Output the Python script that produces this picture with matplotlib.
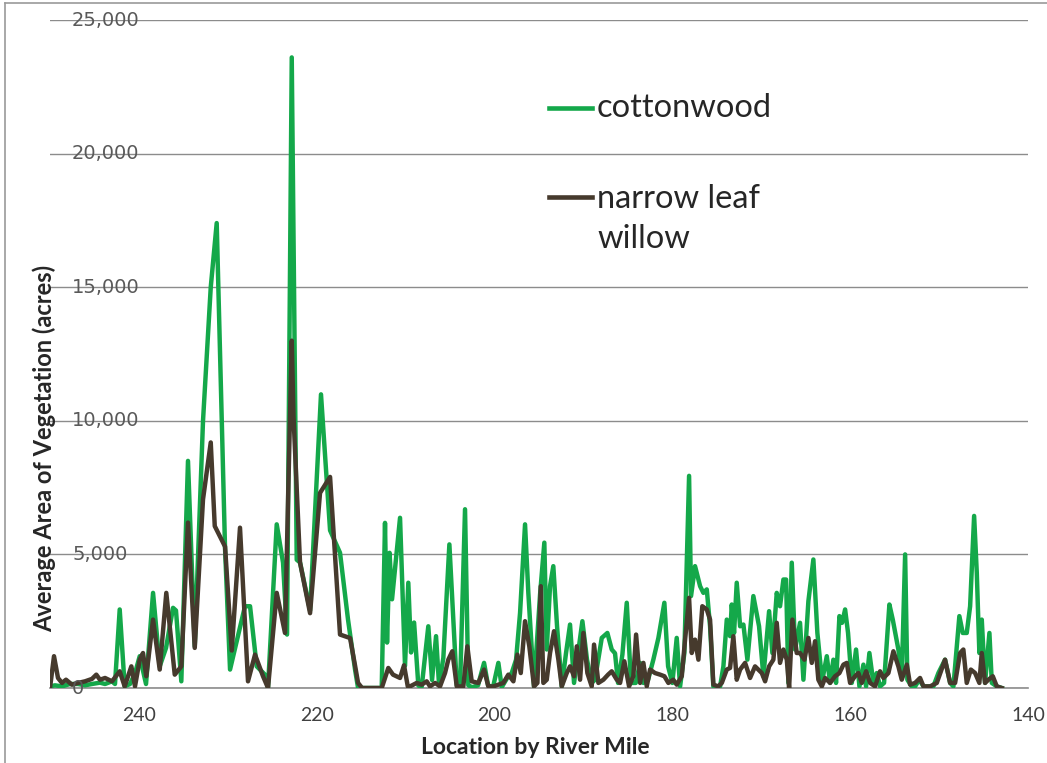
import matplotlib
matplotlib.use("Agg")
import matplotlib.pyplot as plt
from matplotlib.lines import Line2D

# ---------------- data ----------------
cw_miles = [250.00, 249.44, 248.65, 247.75, 246.85, 246.06, 245.28, 244.38, 243.81, 243.03,
            242.69, 242.16, 241.60, 241.00, 240.44, 239.91, 239.20, 238.41, 237.66, 236.95,
            236.16, 235.83, 235.23, 234.48, 233.72, 232.79, 231.92, 231.25, 230.31, 229.75,
            228.07, 227.50, 226.75, 225.82, 225.48, 224.50, 223.79, 223.34, 222.81, 222.25,
            221.88, 220.75, 219.52, 218.50, 217.38, 216.48, 215.69, 215.35, 212.69, 212.32,
            212.09, 211.81, 211.53, 210.63, 210.07, 209.70, 209.39, 209.05, 208.57, 208.19,
            207.45, 207.03, 206.58, 206.24, 205.76, 205.08, 204.25, 203.88, 203.32, 202.95,
            202.53, 201.86, 201.18, 200.73, 200.17, 199.57, 199.19, 198.59, 198.07, 197.58,
            197.13, 196.57, 196.20, 195.56, 194.88, 194.40, 194.13, 193.76, 193.39, 192.97,
            192.44, 191.96, 191.51, 191.06, 190.61, 190.12, 189.60, 189.07, 188.70, 187.94,
            187.31, 186.82, 186.45, 186.11, 185.62, 185.13, 184.65, 184.12, 183.63, 183.26,
            182.73, 182.14, 181.57, 180.90, 180.48, 180.00, 179.51, 179.13, 178.65, 178.12,
            177.90, 177.45, 176.88, 176.51, 176.13, 175.76, 175.39, 174.63, 174.26, 173.88,
            173.51, 173.32, 173.06, 172.76, 172.38, 172.01, 171.56, 170.89, 170.25, 169.76,
            169.12, 168.75, 168.26, 167.89, 167.51, 167.21, 166.95, 166.57, 166.20, 165.64,
            165.26, 164.70, 164.14, 163.69, 163.16, 162.63, 162.26, 161.89, 161.59, 161.21,
            160.91, 160.57, 160.24, 159.82, 159.34, 158.96, 158.51, 158.21, 157.84, 157.39,
            157.01, 156.64, 156.19, 155.59, 155.21, 154.58, 154.20, 153.82, 153.57, 153.07,
            152.70, 152.22, 151.76, 151.38, 150.64, 150.08, 149.33, 148.76, 148.39, 147.72,
            147.34, 146.89, 146.51, 146.06, 145.76, 145.47, 145.20, 144.83, 144.34, 144.07,
            143.51, 142.95]
cw_acres = [60, 100, 60, 150, 150, 100, 150, 200, 150, 250,
            150, 2940, 60, 150, 550, 1190, 150, 3560, 810, 1500,
            3000, 2900, 250, 8500, 1560, 10000, 15000, 17400, 5200, 690,
            3060, 3060, 810, 500, 30, 6125, 4690, 2000, 23600, 4800,
            4700, 2900, 10990, 5900, 5060, 2560, 690, 0, 0, 6180,
            1700, 5060, 3320, 6370, 830, 3940, 1330, 2450, 90, 50,
            2310, 300, 1940, 100, 1125, 5375, 100, 50, 6690, 100,
            30, 100, 940, 100, 30, 940, 30, 370, 560, 1060,
            2810, 6125, 3560, 60, 3500, 5440, 1440, 3810, 4560, 2310,
            60, 1310, 2375, 190, 1310, 2500, 1060, 190, 310, 1875,
            2060, 1440, 1300, 190, 1250, 3190, 190, 190, 940, 190,
            310, 1060, 1875, 3190, 810, 190, 1875, 60, 1310, 7940,
            3440, 4560, 3810, 3560, 3690, 2310, 60, 60, 810, 2560,
            1940, 3125, 2060, 3940, 2310, 2375, 1060, 3440, 2310, 440,
            2875, 1310, 3560, 3060, 4060, 4060, 190, 4690, 1440, 2440,
            310, 3250, 4810, 2060, 250, 1190, 190, 1060, 190, 2690,
            2440, 2940, 2060, 190, 1440, 60, 875, 60, 1310, 190,
            560, 60, 190, 3125, 2560, 1440, 440, 5000, 310, 60,
            60, 310, 60, 60, 60, 560, 1060, 190, 60, 2690,
            2060, 2060, 3060, 6440, 4310, 1310, 2560, 190, 2060, 190,
            60, 0]

nlw_miles = [250.00, 249.55, 249.10, 248.65, 248.20, 247.53, 246.85, 246.06, 245.28, 244.79,
             244.38, 243.81, 243.03, 242.16, 241.60, 240.85, 240.44, 239.91, 239.54, 239.17,
             238.41, 237.66, 236.92, 235.97, 235.23, 234.48, 233.72, 232.79, 231.92, 231.47,
             230.31, 229.56, 228.63, 227.73, 226.94, 226.04, 225.48, 224.50, 223.57, 222.81,
             222.61, 221.88, 220.75, 219.63, 218.50, 217.38, 216.25, 215.69, 215.35, 214.90,
             212.69, 211.95, 211.42, 210.63, 210.18, 209.76, 209.50, 208.75, 208.19, 207.63,
             207.26, 206.69, 206.13, 205.57, 205.20, 204.75, 204.25, 203.51, 203.06, 202.57,
             201.82, 201.18, 200.70, 200.13, 199.57, 199.01, 198.45, 197.88, 197.43, 197.05,
             196.57, 196.09, 195.56, 195.18, 194.80, 194.51, 194.13, 193.76, 193.31, 192.82,
             192.44, 191.88, 191.51, 191.06, 190.75, 190.38, 190.01, 189.56, 189.07, 188.81,
             188.32, 187.76, 187.23, 186.82, 186.25, 185.88, 185.40, 184.87, 184.39, 184.08,
             183.63, 183.26, 182.88, 182.51, 181.95, 181.38, 180.90, 180.45, 179.89, 179.51,
             178.94, 178.57, 178.12, 177.82, 177.45, 177.07, 176.63, 176.13, 175.76, 175.39,
             174.83, 174.44, 173.88, 173.51, 173.14, 172.76, 172.38, 171.82, 171.26, 170.70,
             169.94, 169.57, 169.12, 168.64, 168.26, 167.89, 167.51, 167.13, 166.87, 166.50,
             166.01, 165.64, 165.15, 164.70, 164.32, 163.95, 163.58, 163.19, 162.82, 162.26,
             161.70, 161.21, 160.76, 160.38, 160.01, 159.45, 159.08, 158.69, 158.21, 157.76,
             157.20, 156.64, 156.26, 155.70, 155.14, 154.58, 154.20, 153.63, 153.26, 152.70,
             152.14, 151.76, 151.01, 150.26, 149.33, 148.76, 148.20, 147.64, 147.27, 146.89,
             146.43, 145.95, 145.47, 145.20, 144.83, 144.45, 143.96, 143.51, 142.95]
nlw_acres = [0, 1190, 375, 190, 310, 125, 190, 250, 340, 500,
             310, 375, 250, 625, 60, 810, 60, 1060, 1310, 440,
             2560, 690, 3560, 500, 810, 6190, 1500, 7060, 9190, 6060,
             5290, 1400, 6000, 250, 1250, 440, 0, 3560, 2060, 13000,
             10150, 4700, 2800, 7300, 7900, 2000, 1870, 840, 190, 0,
             0, 750, 500, 375, 850, 60, 60, 190, 125, 250,
             60, 190, 60, 560, 1060, 1375, 60, 60, 1560, 250,
             190, 690, 60, 60, 125, 190, 500, 250, 1250, 560,
             2500, 1560, 60, 190, 3810, 190, 310, 1310, 2125, 1060,
             60, 560, 810, 440, 1560, 310, 2060, 560, 60, 1625,
             190, 310, 500, 625, 310, 190, 1000, 60, 440, 2000,
             190, 940, 60, 690, 560, 500, 440, 190, 310, 125,
             440, 1810, 3375, 1310, 1810, 1060, 3060, 2940, 2560, 125,
             60, 190, 690, 750, 1940, 310, 690, 940, 375, 810,
             560, 250, 810, 1060, 2440, 940, 1440, 1060, 0, 2560,
             1310, 1310, 1060, 1875, 940, 1750, 310, 60, 375, 190,
             440, 560, 875, 940, 190, 440, 560, 190, 625, 190,
             60, 625, 375, 560, 1375, 810, 310, 875, 125, 190,
             375, 60, 60, 190, 1060, 190, 190, 1310, 1440, 190,
             690, 560, 190, 1310, 190, 310, 440, 60, 0]

x_ticks = [240, 220, 200, 180, 160, 140]
y_ticks = [0, 5000, 10000, 15000, 20000, 25000]
series_names = ["cottonwood", "narrow leaf\nwillow"]
x_title = "Location by River Mile"
y_title = "Average Area of Vegetation (acres)"

GREEN = "#14A84A"
BROWN = "#463A2D"
W, H = 1047, 763

fig = plt.figure(figsize=(W / 100, H / 100), dpi=100)
ax = fig.add_axes([50 / W, 1 - 688 / H, 978 / W, 668 / H])

ax.plot(cw_miles, cw_acres, color=GREEN, lw=3.2, zorder=3)
ax.plot(nlw_miles, nlw_acres, color=BROWN, lw=3.2, zorder=4)

ax.set_xlim(250, 140)
ax.set_ylim(0, 25000)
ax.set_yticks(y_ticks)
ax.set_xticks(x_ticks)
ax.set_xticklabels([str(t) for t in x_ticks], family="Lato", fontsize=14, color="#404040")
ax.grid(axis="y", color="#8C8C8C", lw=1)
ax.set_axisbelow(True)
for s in ("left", "right", "top"):
    ax.spines[s].set_visible(False)
ax.spines["bottom"].set_color("#8C8C8C")
ax.spines["bottom"].set_linewidth(1.2)
ax.tick_params(axis="y", length=0, labelleft=False)
ax.tick_params(axis="x", length=0, pad=14)

for v in y_ticks:
    ax.text(0.0225, v, f"{v:,}", transform=ax.get_yaxis_transform(), ha="left", va="center",
            fontsize=14, color="#595959", family="DejaVu Sans", zorder=6)

fig.text(535 / W, 1 - 747 / H, x_title, ha="center", va="center", fontsize=16.5,
         weight="bold", family="Lato", color="#262626")
fig.text(44 / W, 1 - 448 / H, y_title, ha="center", va="center", rotation=90, fontsize=17,
         weight="bold", family="Lato", color="#262626")

# legend
for (ly, col) in ((108, GREEN), (197, BROWN)):
    fig.add_artist(Line2D([549 / W, 592 / W], [1 - ly / H, 1 - ly / H], transform=fig.transFigure,
                          color=col, lw=3.3))
fig.text(597 / W, 1 - 108 / H, series_names[0], ha="left", va="center", fontsize=23.5,
         family="Lato", color="#262626")
fig.text(597 / W, 1 - 219 / H, series_names[1], ha="left", va="center", fontsize=23.5,
         family="Lato", color="#262626", linespacing=1.42)

# chart-area frame
fig.add_artist(Line2D([5 / W, 5 / W], [0, 1 - 3 / H], transform=fig.transFigure, color="#9A9A9A", lw=1.2))
fig.add_artist(Line2D([5 / W, 1], [1 - 3 / H, 1 - 3 / H], transform=fig.transFigure, color="#9A9A9A", lw=1.2))

fig.savefig("out.png", dpi=100, facecolor="white")
